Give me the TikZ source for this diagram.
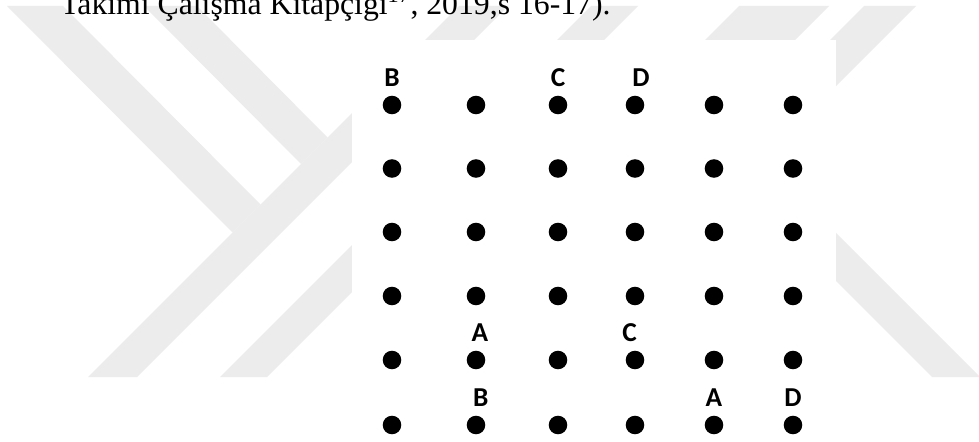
\documentclass[tikz,border=0pt]{standalone}
\usepackage{fontspec}
\setmainfont{Liberation Serif}
\newfontfamily\lblfont{Carlito}
\usepackage{tikz}
\usetikzlibrary{positioning}
\definecolor{WMgray}{RGB}{236,236,236}

\begin{document}
\begin{tikzpicture}[x=0.75pt, y=-0.75pt,
    dot/.style={circle, fill=black, inner sep=0pt, minimum size=13.9pt},
    lbl/.style={font=\lblfont\bfseries\fontsize{20.5}{24}\selectfont, inner sep=0pt, text height=12.9pt, text depth=0pt}]
  \useasboundingbox (0,0) rectangle (979,442);
  \clip (0,0) rectangle (979,442);
  \fill[white] (0,0) rectangle (979,442);
  % watermark
  \fill[WMgray] (7,6) -- (63,6) -- (260.5,204.5) -- (232.5,232.5) -- cycle;
  \fill[WMgray] (144,6) -- (197,6) -- (327.5,137.5) -- (301,164) -- cycle;
  \fill[WMgray] (459,6) -- (508,6) -- (137,377) -- (88,377) -- cycle;
  \fill[WMgray] (591,6) -- (638,6) -- (267,377) -- (220,377) -- cycle;
  \fill[WMgray] (739,6) -- (829,6) -- (709,126) -- (619,126) -- cycle;
  \fill[WMgray] (864,6) -- (916,6) -- (622,300) -- (570,300) -- cycle;
  \fill[WMgray] (705,150) -- (753,150) -- (980,377) -- (932,377) -- cycle;
  \fill[white] (352,40) rectangle (836,442);
  \node[anchor=base west, inner sep=0pt, font=\fontsize{23.8}{28}\selectfont] (src) at (60,15)
    {Takımı Çalışma Kitapçığı\textsuperscript{17}, 2019,s 16-17).};
  \foreach \r/\y in {1/105,2/168.5,3/232,4/296,5/360,6/425}
    \foreach \c/\x in {1/392,2/476,3/558,4/635,5/714,6/793}
      \node[dot] (d\r\c) at (\x,\y) {};
  \node[lbl, above=6.6pt of d11] (b1) {B};
  \node[lbl, above=6.6pt of d13] (c1) {C};
  \node[lbl, above=6.6pt of d14, xshift=4.5pt] (d1) {D};
  \node[lbl, above=6.6pt of d52, xshift=3pt] (a2) {A};
  \node[lbl, above=6.6pt of d54, xshift=-4pt] (c2) {C};
  \node[lbl, above=6.6pt of d62, xshift=3.5pt] (b3) {B};
  \node[lbl, above=6.6pt of d65] (a3) {A};
  \node[lbl, above=6.6pt of d66] (d3) {D};
\end{tikzpicture}
\end{document}
